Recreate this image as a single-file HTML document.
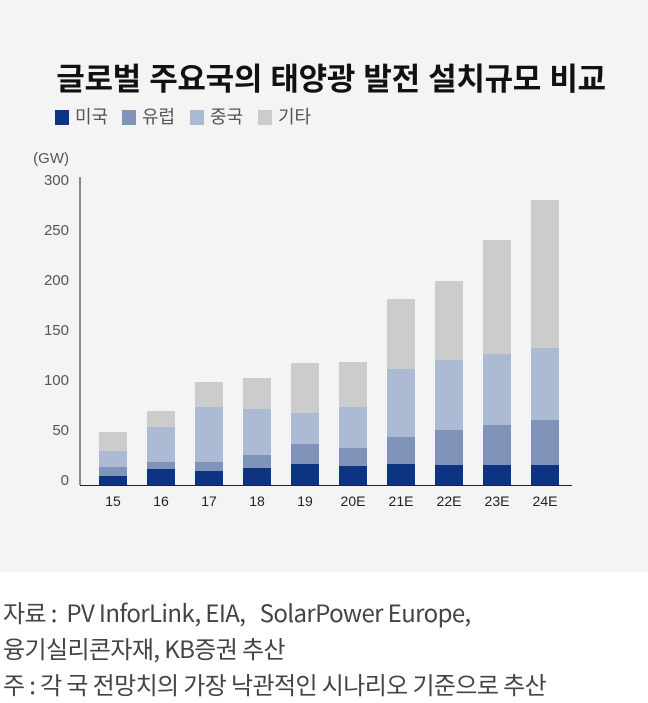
<!DOCTYPE html>
<html><head><meta charset="utf-8"><style>
body{margin:0;width:648px;height:703px;background:#fff;overflow:hidden;font-family:"Liberation Sans","Noto Sans CJK KR",sans-serif;}
#panel{position:absolute;left:0;top:0;width:648px;height:572px;background:#f4f4f4;}
#title{position:absolute;left:7px;width:648px;top:54px;text-align:center;font-size:31px;font-weight:bold;color:#111;letter-spacing:-0.3px;}
.leg{position:absolute;top:103px;font-size:18px;color:#555;}
.sw{display:inline-block;width:14px;height:15px;vertical-align:-2px;margin-right:6px;}
#src{position:absolute;left:3px;top:594px;font-size:24px;color:#444;line-height:36px;letter-spacing:-0.6px;font-family:"Noto Sans CJK KR","Liberation Sans",sans-serif;}
</style></head><body>
<div id="panel"></div>
<div id="title">글로벌 주요국의 태양광 발전 설치규모 비교</div>
<div class="leg" style="left:55px"><span class="sw" style="background:#0d3483"></span>미국</div>
<div class="leg" style="left:122px"><span class="sw" style="background:#8094bb"></span>유럽</div>
<div class="leg" style="left:190px"><span class="sw" style="background:#adbad4"></span>중국</div>
<div class="leg" style="left:258px"><span class="sw" style="background:#cccccc"></span>기타</div>
<svg id="chart" width="648" height="572" style="position:absolute;left:0;top:0"></svg>
<div id="src">자료 :&nbsp; PV InforLink, EIA,&nbsp;&nbsp; SolarPower Europe,<br>융기실리콘자재, KB증권 추산<br>주 : 각 국 전망치의 가장 낙관적인 시나리오 기준으로 추산</div>
<script>
const categories=["15","16","17","18","19","20E","21E","22E","23E","24E"];
const us=[9,16,14,17,21,19,21,20,20,20];
const europe=[9,7,9,13,20,18,27,35,40,45];
const china=[16,35,55,46,31,41,68,70,71,72];
const other=[19,16,25,31,50,45,70,79,114,148];
const ticks=[0,50,100,150,200,250,300];
const colors=["#0d3483","#8094bb","#adbad4","#cccccc"];
const names=["us","europe","china","other"];
const NS="http://www.w3.org/2000/svg";
const svg=document.getElementById('chart');
const y0=485,x0=80,step=48,bw=28,firstC=113;
function y(v){return y0-v;}
function xc(i){return firstC+i*step;}
function mk(t,a){const e=document.createElementNS(NS,t);for(const k in a)e.setAttribute(k,a[k]);svg.appendChild(e);return e;}
const series=[us,europe,china,other];
categories.forEach((c,i)=>{
  let acc=0;
  series.forEach((s,k)=>{
    const r=mk('rect',{x:xc(i)-bw/2,y:y(acc+s[i]),width:bw,height:y(acc)-y(acc+s[i]),fill:colors[k]});
    
    
    acc+=s[i];
  });
  const t=mk('text',{x:xc(i),y:506,'text-anchor':'middle','font-size':14,fill:'#222','font-family':'Liberation Sans'});
  t.textContent=c;
  
  
});
ticks.forEach(v=>{
  const t=mk('text',{x:69,y:y(v),'text-anchor':'end','font-size':15,fill:'#555','font-family':'Liberation Sans'});
  t.textContent=v;
  
  
});
const u=mk('text',{x:69,y:163,'text-anchor':'end','font-size':15,fill:'#555','font-family':'Liberation Sans'});
u.textContent='(GW)';


const ya=mk('line',{x1:x0,y1:177,x2:x0,y2:485,stroke:'#222','stroke-width':1});


const xa=mk('line',{x1:x0,y1:485.5,x2:572,y2:485.5,stroke:'#222','stroke-width':1});


</script>
</body></html>
